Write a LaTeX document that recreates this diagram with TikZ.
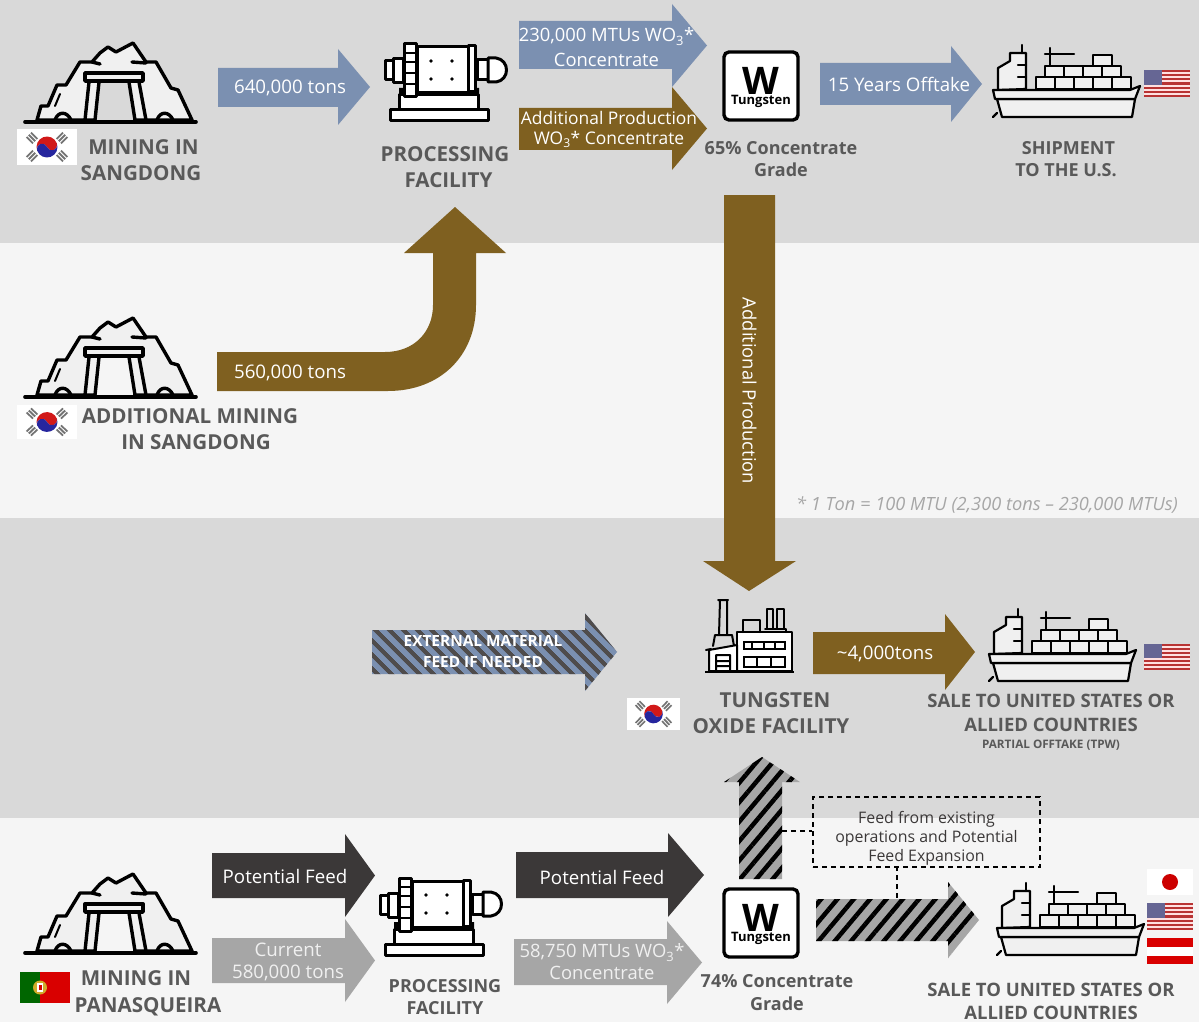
\documentclass[tikz,border=0pt]{standalone}
\usepackage{fontspec}
\setmainfont{Open Sans}
\usetikzlibrary{patterns.meta}
\definecolor{bandA}{HTML}{D9D9D9}
\definecolor{bandB}{HTML}{F5F5F5}
\definecolor{blueA}{HTML}{7B90B1}
\definecolor{brownA}{HTML}{7F6020}
\definecolor{darkA}{HTML}{3B3838}
\definecolor{grayA}{HTML}{A6A6A6}
\definecolor{labelc}{HTML}{595959}
\definecolor{iconf}{HTML}{F0F0F0}
\definecolor{softw}{HTML}{F0F0F0}
\tikzset{
  flowlabel/.style={text=white,inner sep=0pt,align=center,font=\fontsize{18.7}{25}\selectfont},
  headlabel/.style={text=labelc,inner sep=0pt,align=center,font=\fontsize{20.6}{26}\selectfont\bfseries},
  sublabel/.style={text=labelc,inner sep=0pt,align=center,font=\fontsize{18}{22.5}\selectfont\bfseries},
  iconline/.style={draw=black,line width=3.4pt,line join=round,line cap=round},
  millline/.style={draw=black,line width=3pt,line join=round,line cap=round},
  shipline/.style={draw=black,line width=2.2pt,line join=round,line cap=round},
  thinline/.style={draw=black,line width=2pt,line join=round,line cap=round},
  hatchblue/.style={preaction={fill=blueA},pattern={Lines[angle=-45,distance=10.5pt,line width=4.6pt]},pattern color=darkA!90},
  hatchgray/.style={preaction={fill=grayA},pattern={Lines[angle=50,distance=12.5pt,line width=4.5pt]},pattern color=black},
  dashbox/.style={draw=black,line width=1.3pt,dash pattern=on 5pt off 4pt},
}
% horizontal block arrow: style, x0, xneck, xtip, shaft top, shaft bottom, head top, head bottom
\newcommand{\rarrow}[8]{\path[#1] (#2,#5)--(#3,#5)--(#3,#7)--(#4,{(#7+#8)/2})--(#3,#8)--(#3,#6)--(#2,#6)--cycle;}
\newcommand{\mineicon}[3]{\begin{scope}[shift={(#1,#2)}]
  \path[iconline,fill=iconf] (37,120)--(41,106)--(48,106)--(57,85)--(66,85)--(80,62)--(92,62)--(100,53)--(108,47)--(116,52)--(133,43)--(146,62)--(156,62)--(171,88)--(178,90)--(192,120)--cycle;
  \path[fill=#3] (98,82)--(130,82)--(136,120)--(94,120)--cycle;
  \path[iconline,fill=iconf] (85,73) rectangle (143,81);
  \draw[iconline] (89,82)--(85,120) (99,82)--(95,120) (129,82)--(135,120) (139,82)--(146,120);
  \draw[iconline] (55,120) .. controls (58,111) and (67,111) .. (71,120) (157,120) .. controls (160,111) and (169,111) .. (173,120);
  \draw[iconline] (92,62)--(100,64) (132,62)--(146,63);
  \draw[thinline] (60,94)--(55,106);
  \draw[black,line width=3.6pt,line cap=round] (25,122)--(196,122);
\end{scope}}
\newcommand{\millicon}[2]{\begin{scope}[shift={(#1,#2)}]
  \path[millline,fill=white] (385,61) rectangle (393,80);
  \path[millline,fill=white] (393,59) rectangle (403,83);
  \path[millline,fill=white] (477,60) rectangle (488,80);
  \path[millline,fill=white] (488,58)--(496,58) .. controls (510,60) and (510,80) .. (496,82)--(488,82)--cycle;
  \path[millline,fill=white] (399,95) rectangle (478,110);
  \path[millline,fill=white] (390,110) rectangle (488,121);
  \path[millline,fill=white] (417,47) rectangle (469,93);
  \path[millline,fill=white] (468,46) rectangle (475,92);
  \path[fill=black] (399,88) rectangle (404,96) (474,88) rectangle (479,96);
  \path[millline,fill=white] (404,44) rectangle (416,97);
  \draw[black,line width=2.2pt] (404,53)--(416,53) (404,62)--(416,62) (404,73)--(416,73) (404,84)--(416,84);
  \fill[black] (431,61) circle (1.9) (452,61) circle (1.9) (431,79) circle (1.9) (452,79) circle (1.9);
\end{scope}}
\newcommand{\wicon}[3]{\begin{scope}[shift={(#1,#2)}]
  \draw[black,line width=3.4pt,fill=white,rounded corners=5pt] (724,52) rectangle (798,120);
  \node[inner sep=0pt,font=\fontsize{38}{38}\selectfont\bfseries] (#3a) at (761,80.5) {W};
  \node[inner sep=0pt,font=\fontsize{13}{13}\selectfont\bfseries] (#3b) at (761,101) {Tungsten};
\end{scope}}
\newcommand{\shipicon}[2]{\begin{scope}[shift={(#1,#2)}]
  \path[shipline,fill=iconf] (998,90)--(998,68)--(1010,61)--(1010,53)--(1026,53)--(1026,89)--cycle;
  \draw[shipline] (1022,45)--(1022,53) (1018,65)--(1026,65) (1018,77)--(1026,77);
  \draw[shipline] (1050,48)--(1050,66) (1045,54)--(1074,54);
  \path[shipline,fill=iconf] (1093,55) rectangle (1112,66);
  \foreach \a in {1045,1064,1083,1102}{\path[shipline,fill=iconf] (\a,66) rectangle ++(19,11);}
  \foreach \a in {1036,1055,1074,1093,1112}{\path[shipline,fill=iconf] (\a,77) rectangle ++(19,12);}
  \path[shipline,fill=iconf] (997,99)--(1002,117)--(1132,117)--(1135,99)--cycle;
  \path[shipline,fill=iconf] (993,90)--(1130,90)--(1140,86)--(1135,99)--(995,99)--cycle;
  \draw[shipline] (997,113)--(993,117);
\end{scope}}
\newcommand{\factoryicon}[2]{\begin{scope}[shift={(#1,#2)}]
  \draw[thinline] (718,600)--(728,600) (720,600)--(719,635) (727,600)--(727,635) (715,635)--(732,635) (715,635)--(713,646) (732,635)--(734,646);
  \path[thinline,fill=white] (737,632)--(792,632)--(792,671)--(737,671)--cycle;
  \draw[thinline] (743,632)--(743,620)--(760,620)--(760,632);
  \draw[thinline] (767,628)--(767,609)--(773,609)--(773,628) (777,628)--(777,609)--(784,609)--(784,628) (765,629)--(786,629)--(786,632);
  \path[thinline,fill=white] (709,650)--(737,645)--(737,671)--(709,671)--cycle;
  \draw[thinline] (706,650)--(711,649) (716,655)--(730,655) (716,655)--(716,671) (730,655)--(730,671) (716,661)--(730,661) (716,666)--(730,666);
  \draw[black,line width=1.8pt] (744,642) rectangle (785,649) (764,642)--(764,649) (752,642)--(752,649) (775,642)--(775,649);
  \draw[black,line width=1.8pt] (744,657) rectangle (785,667) (757,657)--(757,667) (771,657)--(771,667);
  \draw[black,line width=2.6pt] (705,672)--(794,672);
\end{scope}}
\newcommand{\koreaflag}[4]{% x y w h
  \fill[white] (#1,#2) rectangle ++(#3,#4);
  \begin{scope}[shift={({#1+#3/2},{#2+#4/2})},xscale=#3/60,yscale=#4/36]
    \begin{scope}[rotate=20]
      \fill[red!80!black!90!white] (-10.5,0) arc (180:360:10.5) arc (0:180:5.25) arc (360:180:5.25) -- cycle;
      \fill[blue!55!black!85!white] (-10.5,0) arc (180:0:10.5) arc (0:180:5.25) arc (360:180:5.25) -- cycle;
    \end{scope}
    \foreach \px/\py/\r in {-15/-9/-45,15/-9/45,-15/9/45,15/9/-45}{
      \begin{scope}[shift={(\px,\py)},rotate=\r]
        \fill[black!55] (-4.5,-4) rectangle (4.5,-2.2) (-4.5,-1) rectangle (4.5,1) (-4.5,2.2) rectangle (4.5,4);
      \end{scope}}
  \end{scope}}
\newcommand{\usflag}[4]{% x y w h
  \foreach \i in {0,...,12}{
    \pgfmathsetmacro{\cc}{mod(\i,2)==0?1:0}
    \ifdim\cc pt=1pt\relax
      \fill[red!65!black!80!white] (#1,{#2+\i*#4/13}) rectangle (#1+#3,{#2+(\i+1)*#4/13+.2});
    \else
      \fill[white!88!red] (#1,{#2+\i*#4/13}) rectangle (#1+#3,{#2+(\i+1)*#4/13+.2});
    \fi}
  \fill[blue!30!black!60!white] (#1,#2) rectangle ({#1+.4*#3},{#2+.54*#4});}
\begin{document}
\begin{tikzpicture}[x=1pt,y=-1pt]
\useasboundingbox (0,0) rectangle (1199,1022);
% bands
\fill[bandA] (0,0) rectangle (1199,243);
\fill[bandB] (0,243) rectangle (1199,518);
\fill[bandA] (0,518) rectangle (1199,818);
\fill[bandB] (0,818) rectangle (1199,1022);
% block arrows
\rarrow{fill=blueA}{218}{338}{370}{68}{107}{49}{125}
\rarrow{fill=blueA}{519}{672}{707}{21}{69}{4}{87}
\rarrow{fill=brownA}{519}{672}{707}{108}{150}{87}{170}
\rarrow{fill=blueA}{820}{951}{982}{63}{105}{46}{122}
\fill[brownA] (217,352)--(385,352) .. controls (414,352) and (433,332) .. (433,305)--(433,253)--(404,253)--(455,207)--(506,253)--(476,253)--(476,305) .. controls (476,356) and (440,391) .. (388,391)--(217,391)--cycle;
\fill[brownA] (724,195)--(775,195)--(775,561)--(796,561)--(749,591)--(703,561)--(724,561)--cycle;
\rarrow{hatchblue}{372}{585}{617}{630}{674}{613}{691}
\rarrow{fill=brownA}{813}{945}{975}{632}{674}{614}{690}
\path[hatchgray] (739,879)--(739,782)--(724,782)--(762,757)--(800,782)--(782,782)--(782,879)--cycle;
\rarrow{hatchgray}{816}{948}{979}{899}{941}{882}{958}
\rarrow{fill=darkA}{212}{345}{375}{853}{898}{834}{917}
\rarrow{fill=grayA}{212}{345}{375}{938}{983}{919}{1002}
\rarrow{fill=darkA}{516}{668}{704}{852}{898}{833}{917}
\rarrow{fill=grayA}{514}{667}{702}{939}{985}{921}{1004}
% icons
\mineicon{0}{0}{bandA}
\mineicon{0}{275}{bandB}
\mineicon{0}{831}{bandB}
\millicon{0}{0}
\millicon{-5}{834}
\wicon{0}{0}{wa}
\wicon{0}{837}{wb}
\shipicon{0}{0}
\shipicon{-4}{564}
\shipicon{4}{838}
\factoryicon{0}{0}
% flags
\koreaflag{17}{129}{60}{36}
\koreaflag{17}{405}{60}{34}
\koreaflag{627}{698}{53}{32}
\usflag{1144}{70}{46}{27}
\usflag{1144}{644}{46}{26}
\usflag{1147}{903}{46}{27}
\fill[white] (1147,869) rectangle ++(46,26);
\fill[red!80!black] (1170,882) circle (8);
\fill[red!85!black] (1147,938) rectangle ++(46,9);
\fill[white] (1147,947) rectangle ++(46,9);
\fill[red!85!black] (1147,956) rectangle ++(46,8);
\fill[green!40!black] (20,972) rectangle (40,1003);
\fill[red!85!black] (40,972) rectangle (70,1003);
\fill[yellow!60!orange!80!black] (40,987.5) circle (7);
\fill[white] (37,983) rectangle (43,992);
\fill[red!85!black] (38.5,985) rectangle (41.5,990);
% flow labels
\node[flowlabel] (t640) at (290,88) {640,000 tons};
\node[flowlabel,font=\fontsize{18.4}{25}\selectfont] (t230) at (606.5,47.5) {230,000 MTUs WO\textsubscript{3}*\\Concentrate};
\node[flowlabel,font=\fontsize{17.4}{20}\selectfont] (tadd) at (609,129.5) {Additional Production\\WO\textsubscript{3}* Concentrate};
\node[flowlabel] (t15) at (899,84) {15 Years Offtake};
\node[flowlabel] (t560) at (290,373) {560,000 tons};
\node[flowlabel,rotate=-90,font=\fontsize{18.4}{25}\selectfont] (tdown) at (749.5,391) {Additional Production};
\node[flowlabel,font=\fontsize{15.4}{21}\selectfont\bfseries] (text) at (483,651) {EXTERNAL MATERIAL\\FEED IF NEEDED};
\node[flowlabel] (t4000) at (885,654) {\textasciitilde4,000tons};
\node[flowlabel] (tpa) at (285,876) {Potential Feed};
\node[flowlabel,font=\fontsize{18.7}{22}\selectfont,text=softw] (tcur) at (288,961.5) {Current\\580,000 tons};
\node[flowlabel] (tpb) at (602,877) {Potential Feed};
\node[flowlabel,font=\fontsize{18.4}{22}\selectfont,text=softw] (t587) at (602,962) {58,750 MTUs WO\textsubscript{3}*\\Concentrate};
% heading labels
\node[headlabel] (l1) at (141,160) {\hspace*{5pt}MINING IN\\SANGDONG};
\node[headlabel] (l2) at (445,167) {PROCESSING\\\hspace*{7pt}FACILITY};
\node[sublabel] (l3) at (781,159) {65\% Concentrate\\Grade};
\node[sublabel] (l4) at (1066,159) {\hspace*{5pt}SHIPMENT\\TO THE U.S.};
\node[headlabel] (l5) at (190,429.5) {ADDITIONAL MINING\\\hspace*{12pt}IN SANGDONG};
\node[headlabel] (l6) at (771,713.5) {\hspace*{8pt}TUNGSTEN\\OXIDE FACILITY};
\node[sublabel,font=\fontsize{18.5}{24}\selectfont\bfseries] (l7) at (1051,713) {SALE TO UNITED STATES OR\\ALLIED COUNTRIES};
\node[text=labelc,inner sep=0pt,font=\fontsize{11.7}{14}\selectfont\bfseries] (l8) at (1051,745) {PARTIAL OFFTAKE (TPW)};
\node[headlabel,font=\fontsize{20.6}{27}\selectfont\bfseries] (l9) at (148,993) {MINING IN\hspace*{24pt}\\PANASQUEIRA};
\node[sublabel] (l10) at (445,997) {PROCESSING\\FACILITY};
\node[sublabel] (l11) at (777,992.5) {74\% Concentrate\\Grade};
\node[sublabel,font=\fontsize{18.5}{23}\selectfont\bfseries] (l12) at (1051,1001.5) {SALE TO UNITED STATES OR\\ALLIED COUNTRIES};
\node[text=grayA,inner sep=0pt,font=\fontsize{18.2}{20}\selectfont\itshape] (note) at (987,505) {* 1 Ton = 100 MTU (2,300 tons – 230,000 MTUs)};
% dashed call-out
\node[dashbox,minimum width=227pt,minimum height=70pt,inner sep=0pt,align=center,text=darkA,font=\fontsize{15.9}{19}\selectfont] (box) at (926.5,832) {\rule{0pt}{25pt}Feed from existing\\operations and Potential\\Feed Expansion};
\coordinate (upc) at (782,831);
\coordinate (rgc) at (897,898);
\draw[dashbox] (upc) -- (box.west |- upc);
\draw[dashbox] (rgc) -- (rgc |- box.south);
\end{tikzpicture}
\end{document}
